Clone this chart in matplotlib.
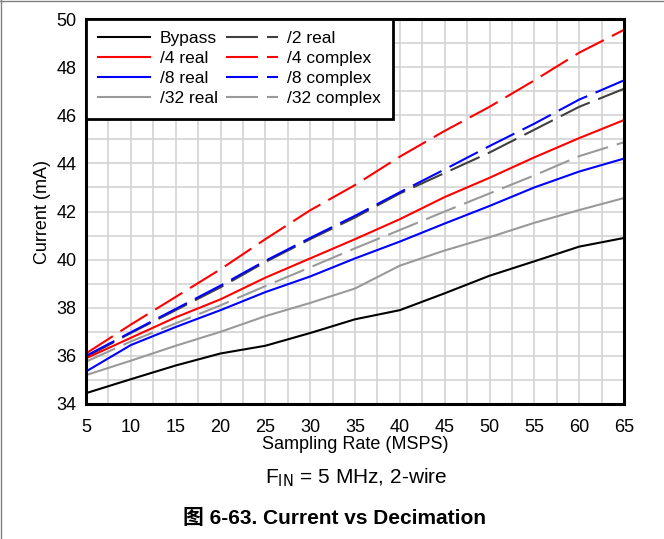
import matplotlib
matplotlib.use("Agg")
import matplotlib.pyplot as plt
from matplotlib.lines import Line2D

plt.rcParams['font.family'] = ['Liberation Sans', 'Noto Sans CJK SC', 'DejaVu Sans']
plt.rcParams['lines.scale_dashes'] = False

rate = [5, 10, 15, 20, 25, 30, 35, 40, 45, 50, 55, 60, 65]
bypass = [34.45, 35.03, 35.6, 36.1, 36.42, 36.95, 37.52, 37.9, 38.6, 39.33, 39.93, 40.54, 40.9]
d2_real = [35.95, 36.95, 37.9, 38.85, 39.9, 40.85, 41.75, 42.75, 43.6, 44.45, 45.4, 46.35, 47.1]
d4_real = [35.9, 36.75, 37.6, 38.35, 39.25, 40.05, 40.85, 41.68, 42.6, 43.4, 44.25, 45.05, 45.8]
d4_complex = [36.1, 37.3, 38.45, 39.6, 40.85, 42.05, 43.1, 44.28, 45.35, 46.35, 47.45, 48.6, 49.55]
d8_real = [35.35, 36.45, 37.2, 37.9, 38.65, 39.3, 40.05, 40.75, 41.5, 42.23, 43.0, 43.66, 44.2]
d8_complex = [36.0, 36.98, 37.95, 38.92, 39.95, 40.9, 41.82, 42.8, 43.75, 44.72, 45.65, 46.65, 47.45]
d32_real = [35.2, 35.8, 36.42, 37.0, 37.65, 38.2, 38.8, 39.75, 40.38, 40.93, 41.53, 42.06, 42.56]
d32_complex = [35.76, 36.6, 37.35, 38.1, 38.9, 39.68, 40.47, 41.23, 42.0, 42.75, 43.5, 44.3, 44.88]

xticks = [5, 10, 15, 20, 25, 30, 35, 40, 45, 50, 55, 60, 65]
yticks = [34, 36, 38, 40, 42, 44, 46, 48, 50]

fig = plt.figure(figsize=(6.64, 5.39), dpi=100)
ax = fig.add_axes([86/664, 1-404/539, (624-86)/664, (404-19)/539])

dash = (23, 6.5)
lw = 1.5
fs = 13
series = [
    ("Bypass", bypass, "#000000", None),
    ("/4 real", d4_real, "#ff0000", None),
    ("/8 real", d8_real, "#0000ff", None),
    ("/32 real", d32_real, "#9a9a9a", None),
    ("/2 real", d2_real, "#404040", dash),
    ("/4 complex", d4_complex, "#ff0000", dash),
    ("/8 complex", d8_complex, "#0000ff", dash),
    ("/32 complex", d32_complex, "#9a9a9a", dash),
]
draw_order = [3, 7, 0, 4, 2, 6, 1, 5]
handles = {}
for i in draw_order:
    name, vals, col, ds = series[i]
    ln, = ax.plot(rate, vals, color=col, lw=lw, zorder=3)
    if ds:
        ln.set_dashes(ds)
    handles[i] = ln

ax.set_xlim(5, 65)
ax.set_ylim(34, 50)
ax.set_xticks(xticks)
ax.set_yticks(yticks)
ax.set_xticks([x + 2.5 for x in xticks[:-1]], minor=True)
ax.set_yticks([y + 1 for y in yticks[:-1]], minor=True)
ax.grid(True, which='both', color='#d3d3d3', lw=1.2, zorder=0)
ax.set_axisbelow(True)
ax.tick_params(which='both', length=0, labelsize=fs, colors='black')
ax.tick_params(axis='x', pad=11)
ax.tick_params(axis='y', pad=7)
for s in ax.spines.values():
    s.set_linewidth(2.2)
    s.set_color('black')
    s.set_zorder(5)

ax.set_xlabel("Sampling Rate (MSPS)", fontsize=fs, labelpad=0)
ax.set_ylabel("Current (mA)", fontsize=fs, labelpad=4)

leg = ax.legend([handles[i] for i in range(8)], [s[0] for s in series], ncol=2,
                loc='upper left', bbox_to_anchor=(0, 1), borderaxespad=0,
                fancybox=False, framealpha=1, edgecolor='black', fontsize=12.5,
                handlelength=3.0, handletextpad=0.55, columnspacing=0.45,
                labelspacing=0.28, borderpad=0.7)
leg.get_frame().set_linewidth(2.0)
leg.set_zorder(6)

fig.text(356/664, 1-478/539, r"F$_{\mathrm{IN}}$ = 5 MHz, 2-wire", ha='center', va='center', fontsize=15)
fig.text(335/664, 1-518/539, "图 6-63. Current vs Decimation", ha='center', va='center',
         fontsize=15, fontweight='bold')

fig.add_artist(Line2D([0.5/664, 0.5/664], [0, 1], color='#808080', lw=1, transform=fig.transFigure))
fig.add_artist(Line2D([0, 1], [1-0.5/539, 1-0.5/539], color='#808080', lw=1, transform=fig.transFigure))

fig.savefig("out.png", dpi=100)
